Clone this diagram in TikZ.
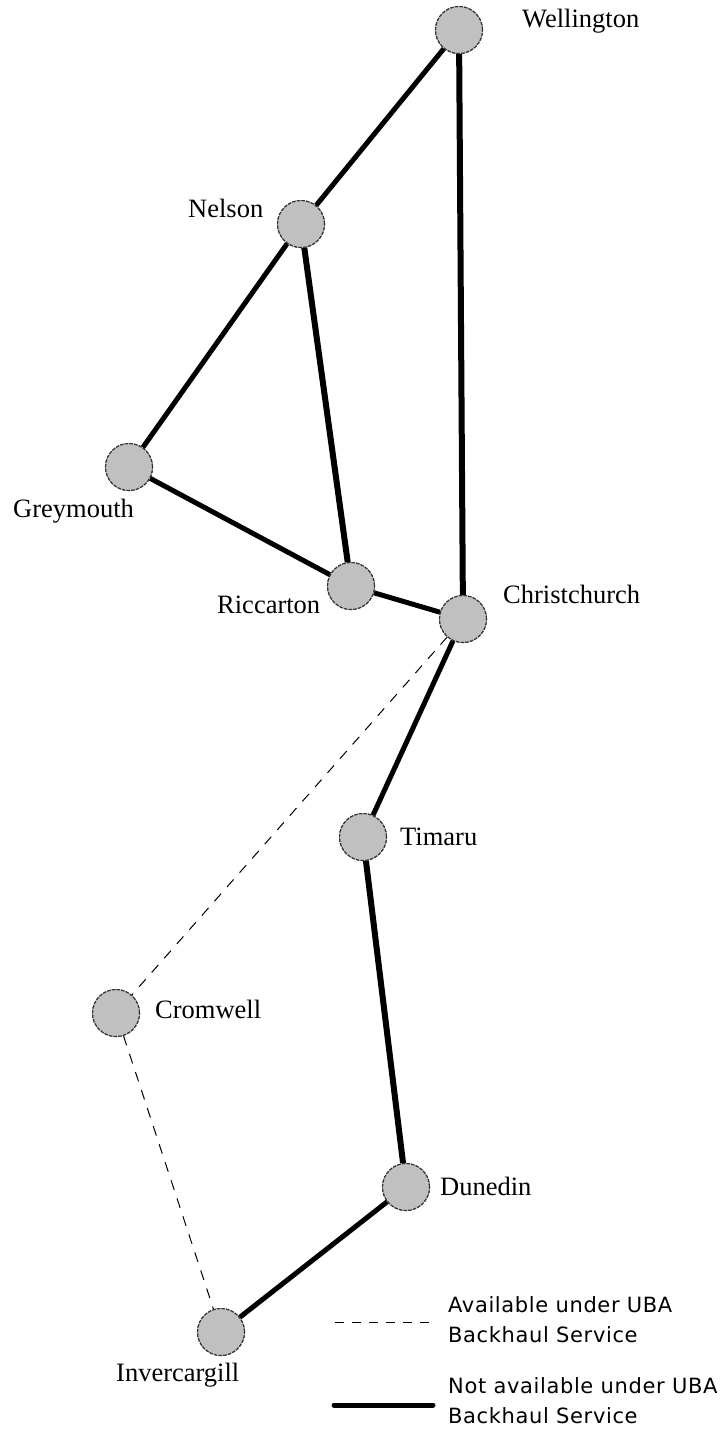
\documentclass[tikz,border=0pt]{standalone}
\usepackage{fontspec}
\setmainfont{Liberation Serif}
\newfontfamily\legendfont[LetterSpace=3]{DejaVu Sans}
\definecolor{nodegray}{HTML}{C0C0C0}
\definecolor{rimgray}{HTML}{303030}
\begin{document}
\begin{tikzpicture}[x=1pt,y=-1pt,
  city/.style={circle,minimum size=47pt,inner sep=0pt,fill=nodegray,draw=rimgray,line width=1.1pt,dash pattern=on 3.5pt off 1.2pt},
  lbl/.style={inner sep=0pt,anchor=base west,font=\fontsize{26.5}{30}\selectfont},
  legtext/.style={inner sep=0pt,anchor=base west,font=\legendfont\fontsize{21}{30}\selectfont},
  link/.style={line width=5pt},
  boldlink/.style={line width=6pt},
  avail/.style={line width=1pt,dash pattern=on 10pt off 9pt}]
\useasboundingbox[fill=white] (0,0) rectangle (720,1434);
% cities
\node[city] (wel) at (459,30) {};
\node[city] (nel) at (301,224) {};
\node[city] (gre) at (129,467) {};
\node[city] (ric) at (351,586) {};
\node[city] (chc) at (463,619) {};
\node[city] (tim) at (363,837) {};
\node[city] (cro) at (116,1013) {};
\node[city] (dun) at (406,1187) {};
\node[city] (inv) at (221,1332) {};
% labels
\node[lbl] (lwel) at (522,28) {Wellington};
\node[lbl] (lnel) at (188,217) {Nelson};
\node[lbl] (lgre) at (13,517) {Greymouth};
\node[lbl] (lric) at (217,613) {Riccarton};
\node[lbl] (lchc) at (503,603) {Christchurch};
\node[lbl] (ltim) at (400,845) {Timaru};
\node[lbl] (lcro) at (155,1018) {Cromwell};
\node[lbl] (ldun) at (440,1195) {Dunedin};
\node[lbl] (linv) at (116,1381) {Invercargill};
% connectors
\draw[link] (wel) -- (nel);
\draw[boldlink] (wel) -- (chc);
\draw[link] (nel) -- (gre);
\draw[boldlink] (nel) -- (ric);
\draw[link] (gre) -- (ric);
\draw[link] (ric) -- (chc);
\draw[link] (chc) -- (tim);
\draw[boldlink] (tim) -- (dun);
\draw[link] (dun) -- (inv);
\draw[avail] (chc) -- (cro);
\draw[avail] (cro) -- (inv);
% redraw circles on top
\node[city] at (wel) {};
\node[city] at (nel) {};
\node[city] at (gre) {};
\node[city] at (ric) {};
\node[city] at (chc) {};
\node[city] at (tim) {};
\node[city] at (cro) {};
\node[city] at (dun) {};
\node[city] at (inv) {};
% legend
\coordinate (da) at (335,1322);
\coordinate (db) at (431,1322);
\coordinate (sa) at (334,1405);
\coordinate (sb) at (433,1405);
\draw[line width=1pt,dash pattern=on 9pt off 8pt] (da) -- (db);
\draw[line width=5pt,line cap=round] (sa) -- (sb);
\node[legtext] (l1a) at (448,1312) {Available under UBA};
\node[legtext] (l1b) at (448,1342) {Backhaul Service};
\node[legtext] (l2a) at (448,1393) {Not available under UBA};
\node[legtext] (l2b) at (448,1423) {Backhaul Service};
\end{tikzpicture}
\end{document}
